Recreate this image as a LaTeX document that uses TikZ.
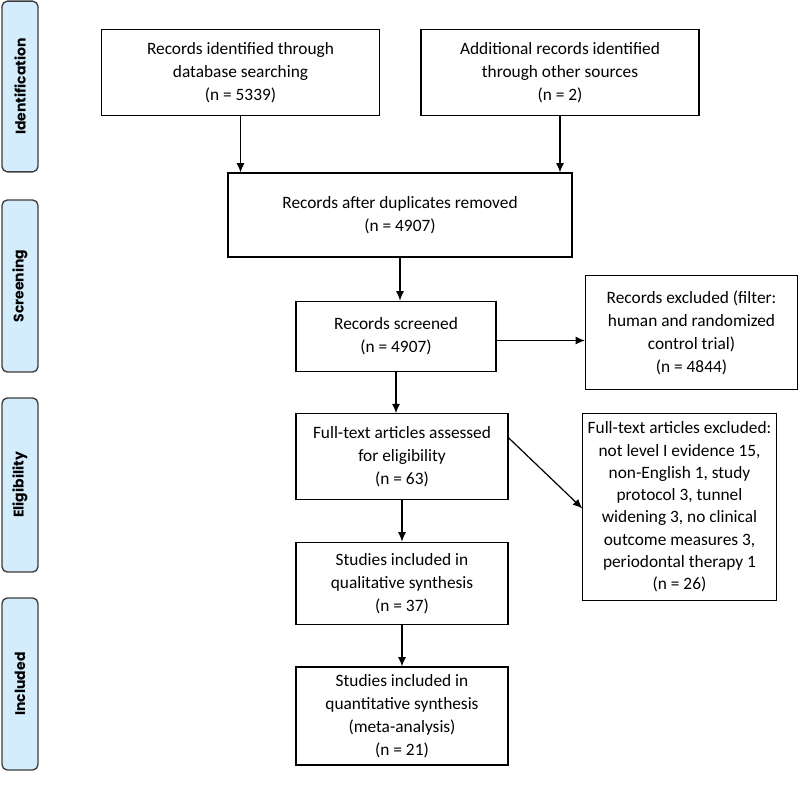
\documentclass[tikz,border=0pt]{standalone}
\usepackage{fontspec}
\setmainfont{Carlito}
\newfontfamily\sidefont{Poppins Bold}
\usepackage{tikz}
\usetikzlibrary{arrows.meta}
\usepackage{xcolor}
\definecolor{fasecolor}{RGB}{212,237,253}
\definecolor{bordecolor}{RGB}{60,60,60}

\begin{document}
\begin{tikzpicture}[x=0.75pt,y=-0.75pt,>={Latex[length=7pt,width=6pt]},
  caja/.style={draw,line width=0.9pt,align=center,inner sep=0pt,
    font=\fontsize{13}{17.25}\selectfont},
  fase/.style={draw=bordecolor,fill=fasecolor,line width=1pt,rounded corners=4pt,
    minimum width=27pt,inner sep=0pt,
    font=\sidefont\fontsize{10.5}{12}\selectfont}]
  % Lienzo con las proporciones de la figura
  \useasboundingbox (0,0) rectangle (800,785);

  % Fases a la izquierda
  \node[fase,minimum height=128pt] (fid) at (20,86.5) {\rotatebox{90}{Identification}};
  \node[fase,minimum height=129pt] (fsc) at (20,286) {\rotatebox{90}{Screening}};
  \node[fase,minimum height=130.5pt] (fel) at (20,485) {\rotatebox{90}{Eligibility}};
  \node[fase,minimum height=129pt] (fin) at (20,684) {\rotatebox{90}{Included}};

  % Cajas del diagrama de flujo
  \node[caja,minimum width=209pt,minimum height=64pt] (base) at (240.5,72.5)
    {Records identified through\\database searching\\(n = 5339)};
  \node[caja,minimum width=208.5pt,minimum height=64pt] (otras) at (560,72.5)
    {Additional records identified\\through other sources\\(n = 2)};
  \node[caja,minimum width=258pt,minimum height=63pt] (dupl) at (400,215)
    {Records after duplicates removed\\(n = 4907)};
  \node[caja,minimum width=150pt,minimum height=53pt] (cribado) at (396,336.5)
    {Records screened\\(n = 4907)};
  \node[caja,minimum width=159pt,minimum height=85pt] (excl) at (691.5,332.5)
    {Records excluded (filter:\\human and randomized\\control trial)\\(n = 4844)};
  \node[caja,minimum width=159pt,minimum height=64pt] (texto) at (402,456.5)
    {Full-text articles assessed\\for eligibility\\(n = 63)};
  \node[caja,minimum width=145pt,minimum height=140pt,
    font=\fontsize{13}{16.7}\selectfont] (exclt) at (679.5,507)
    {Full-text articles excluded:\\not level I evidence 15,\\non-English 1, study\\protocol 3, tunnel\\widening 3, no clinical\\outcome measures 3,\\periodontal therapy 1\\(n = 26)};
  \node[caja,minimum width=159pt,minimum height=62pt] (cual) at (402,583.5)
    {Studies included in\\qualitative synthesis\\(n = 37)};
  \node[caja,minimum width=159pt,minimum height=73.5pt] (cuant) at (402,716)
    {Studies included in\\quantitative synthesis\\(meta-analysis)\\(n = 21)};

  % Flechas
  \draw[->,line width=0.9pt] (base.south) -- (base.south |- dupl.north);
  \draw[->,line width=0.9pt] (otras.south) -- (otras.south |- dupl.north);
  \draw[->,line width=0.9pt] (dupl.south) -- (dupl.south |- cribado.north);
  \draw[->,line width=0.9pt] (cribado.south) -- (cribado.south |- texto.north);
  \draw[->,line width=0.9pt] ([yshift=-3pt]cribado.east) -- ([yshift=-3pt]cribado.east -| excl.west);
  \draw[->,line width=0.9pt] ([yshift=14pt]texto.east) -- ([yshift=-1pt]exclt.west);
  \draw[->,line width=0.9pt] (texto.south) -- (cual.north);
  \draw[->,line width=0.9pt] (cual.south) -- (cuant.north);
\end{tikzpicture}
\end{document}
